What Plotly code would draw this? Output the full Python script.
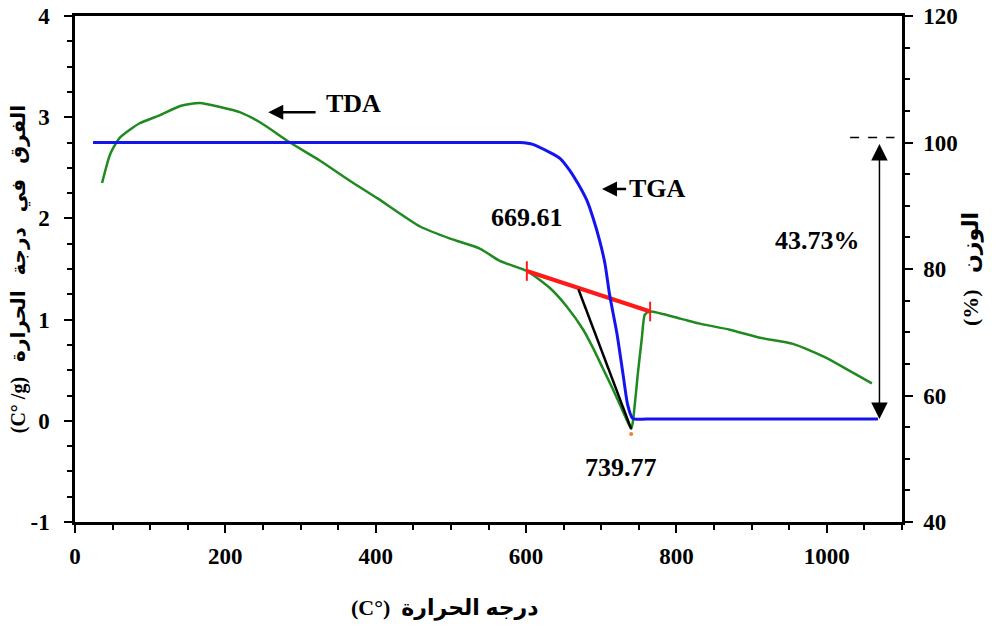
import plotly.graph_objects as go

# ---------------- data ----------------
tda_temp = [36, 47, 60, 86, 113, 140, 166, 193, 219, 246, 286, 326, 366, 402, 459, 499,
            539, 565, 601, 632, 654, 676, 689, 702, 715, 729, 739.77, 742, 749, 754, 758, 765,
            805, 831, 871, 911, 955, 1000, 1031, 1060]
tda_val = [2.35, 2.64, 2.80, 2.94, 3.02, 3.11, 3.14, 3.10, 3.05, 2.95, 2.75, 2.57, 2.37,
           2.20, 1.92, 1.80, 1.70, 1.58, 1.48, 1.31, 1.13, 0.90, 0.72, 0.52, 0.32, 0.09, -0.08,
           -0.01, 0.49, 0.82, 1.05, 1.08, 1.01, 0.96, 0.90, 0.82, 0.76, 0.62, 0.49, 0.37]

tga_temp = [24, 100, 300, 500, 570, 592, 609, 632, 645, 658, 669, 681, 689, 698, 705, 711,
            721, 729, 735, 741, 745, 760, 900, 1050, 1068]
tga_val = [100, 100, 100, 100, 100, 100, 99.7, 98.4, 97.5, 95.6, 93.5, 90.8, 88.1, 84.4,
           80.8, 76.0, 69.7, 63.3, 58.6, 56.5, 56.27, 56.27, 56.27, 56.27, 56.27]

baseline_temp = [601, 765]          # red baseline
baseline_val = [1.48, 1.08]
onset_temp = [669.61, 739.77]       # black tangent
onset_val = [1.30, -0.08]

weight_start = 100.0
weight_end = 56.27
weight_loss_label = "43.73%"

x_tickvals = [0, 200, 400, 600, 800, 1000]
x_ticktext = ["0", "200", "400", "600", "800", "1000"]
y_tickvals = [-1, 0, 1, 2, 3, 4]
y_ticktext = ["-1", "0", "1", "2", "3", "4"]
y2_tickvals = [40, 60, 80, 100, 120]
y2_ticktext = ["40", "60", "80", "100", "120"]

x_title = "(C°)  درجه الحرارة"
y_title = "(C° /g)   الفرق   في   درجة   الحرارة"
y2_title = "(%)   الوزن"

FONT = "Liberation Serif, Times New Roman, DejaVu Sans, serif"
GREEN = "#1f8a1f"
BLUE = "#1414f0"
RED = "#ff1a1a"

fig = go.Figure()

fig.add_trace(go.Scatter(x=tda_temp, y=tda_val, mode="lines", name="TDA",
                         line=dict(color=GREEN, width=2.5, shape="spline", smoothing=0.6),
                         yaxis="y"))
fig.add_trace(go.Scatter(x=tga_temp, y=tga_val, mode="lines", name="TGA",
                         line=dict(color=BLUE, width=3, shape="spline", smoothing=0.6),
                         yaxis="y2"))
fig.add_trace(go.Scatter(x=baseline_temp, y=baseline_val, mode="lines+markers",
                         line=dict(color=RED, width=4),
                         marker=dict(symbol="line-ns", size=14,
                                     line=dict(color=RED, width=2)),
                         yaxis="y"))
fig.add_trace(go.Scatter(x=onset_temp, y=onset_val, mode="lines",
                         line=dict(color="black", width=2.5), yaxis="y"))
fig.add_trace(go.Scatter(x=[onset_temp[1]], y=[onset_val[1] - 0.05], mode="markers",
                         marker=dict(color="#f08030", size=4), yaxis="y"))

ann_font = dict(family=FONT, size=26, color="black", weight="bold")
titlefont = dict(family=FONT, size=22, color="black", weight="bold")
annotations = [
    dict(x=370, y=3.14, xref="x", yref="y", text="TDA", showarrow=False, font=ann_font),
    dict(x=257, y=3.05, xref="x", yref="y", ax=322, ay=3.05, axref="x", ayref="y",
         text="", showarrow=True, arrowhead=2, arrowsize=1.2, arrowwidth=2.5,
         arrowcolor="black"),
    dict(x=775, y=2.30, xref="x", yref="y", text="TGA", showarrow=False, font=ann_font),
    dict(x=701, y=2.29, xref="x", yref="y", ax=735, ay=2.29, axref="x", ayref="y",
         text="", showarrow=True, arrowhead=2, arrowsize=1.2, arrowwidth=2.5,
         arrowcolor="black"),
    dict(x=601, y=2.01, xref="x", yref="y", text=f"{onset_temp[0]:.2f}", showarrow=False,
         font=ann_font),
    dict(x=726, y=-0.46, xref="x", yref="y", text=f"{onset_temp[1]:.2f}", showarrow=False,
         font=ann_font),
    dict(x=988, y=1.78, xref="x", yref="y", text=weight_loss_label, showarrow=False,
         font=ann_font),
    dict(x=1070, y=weight_end, xref="x", yref="y2", ax=1070, ay=weight_start,
         axref="x", ayref="y2", text="", showarrow=True, arrowhead=2, arrowside="end+start",
         arrowsize=2.2, arrowwidth=1.5, arrowcolor="black"),
    # x-axis title (placed left of centre, as in the reference)
    dict(x=0.447, y=-0.17, xref="paper", yref="paper", text=x_title, showarrow=False,
         xanchor="center", yanchor="middle", font=titlefont),
]

fig.add_shape(type="line", x0=1031, x1=1090, y0=100.8, y1=100.8, xref="x", yref="y2",
              line=dict(color="black", width=1.5, dash="dash"))

tickfont = dict(family=FONT, size=23, color="black", weight="bold")

fig.update_layout(
    width=997, height=636,
    margin=dict(l=75, r=95, t=16, b=114),
    paper_bgcolor="white", plot_bgcolor="white",
    showlegend=False,
    annotations=annotations,
    xaxis=dict(range=[0, 1100], tickvals=x_tickvals, ticktext=x_ticktext,
               automargin=False,
               showgrid=False, zeroline=False, showline=True, linecolor="black",
               linewidth=2.5, mirror=True, ticks="outside", ticklen=8, tickwidth=2,
               tickcolor="black", tickfont=tickfont, ticklabelstandoff=4,
               minor=dict(dtick=50, tick0=0, ticks="outside", ticklen=5, tickwidth=2,
                          tickcolor="black", showgrid=False)),
    yaxis=dict(range=[-1, 4], tickvals=y_tickvals, ticktext=y_ticktext,
               automargin=False,
               showgrid=False, zeroline=False, showline=True, linecolor="black",
               linewidth=2.5, ticks="outside", ticklen=8, tickwidth=2,
               tickcolor="black", tickfont=tickfont, ticklabelstandoff=10,
               minor=dict(dtick=0.25, tick0=0, ticks="outside", ticklen=5, tickwidth=2,
                          tickcolor="black", showgrid=False),
               title=dict(text=y_title, font=dict(family=FONT, size=20, color="black",
                                                  weight="bold"), standoff=0)),
    yaxis2=dict(range=[40, 120], tickvals=y2_tickvals, ticktext=y2_ticktext,
                overlaying="y", side="right", automargin=False,
                showgrid=False, zeroline=False, showline=True, linecolor="black",
                linewidth=2.5, ticks="outside", ticklen=8, tickwidth=2,
                tickcolor="black", tickfont=tickfont, ticklabelstandoff=6,
                minor=dict(dtick=5, tick0=0, ticks="outside", ticklen=5, tickwidth=2,
                           tickcolor="black", showgrid=False),
                title=dict(text=y2_title, font=titlefont, standoff=6)),
)

fig.write_html("out.html")
